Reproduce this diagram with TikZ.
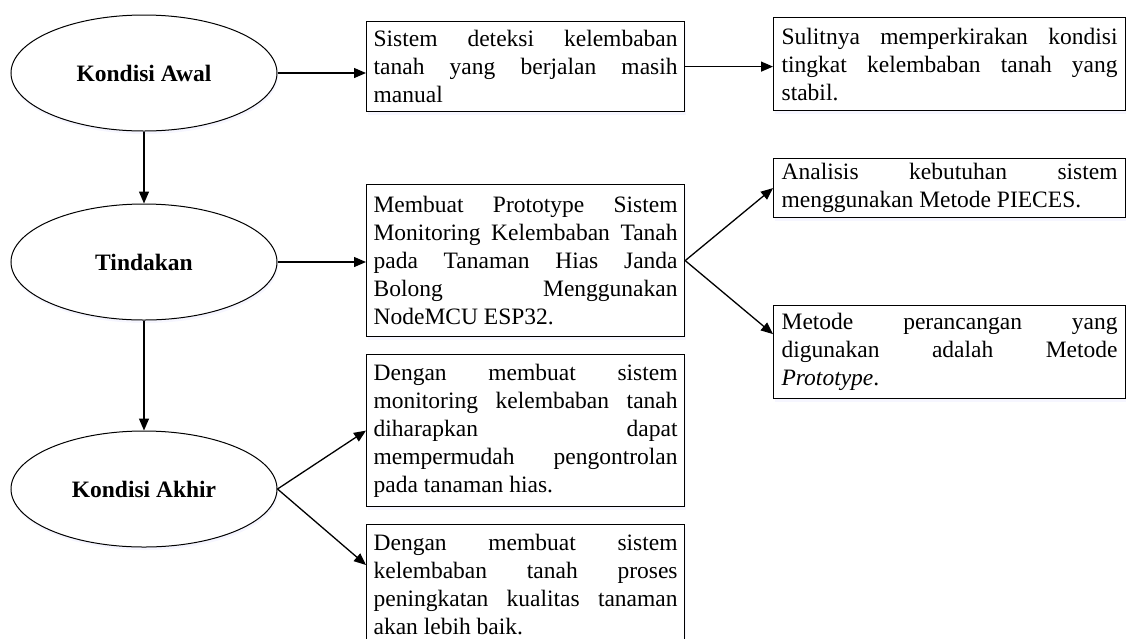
\documentclass[tikz,border=0pt]{standalone}
\usepackage{fontspec}
\setmainfont{Liberation Serif}
\usetikzlibrary{arrows.meta,shapes.geometric,shadows}
\begin{document}
\begin{tikzpicture}[x=1pt,y=-1pt,
  every node/.style={font=\fontsize{23.5}{28}\selectfont},
  softshadow/.style={drop shadow={shadow xshift=1pt,shadow yshift=-3pt,fill=blue!6,opacity=0.6}},
  oval/.style={ellipse,draw,line width=1pt,minimum width=266pt,minimum height=116pt,
    inner sep=0pt,fill=white,softshadow,font=\fontsize{23.5}{28}\selectfont\bfseries},
  lbox/.style={rectangle,draw,line width=1.2pt,anchor=north west,text width=304pt,
    inner xsep=7pt,inner ysep=0pt,align=justify,fill=white,softshadow},
  rbox/.style={lbox,text width=336pt,inner xsep=8pt},
  conn/.style={-{Triangle[length=12pt,width=10pt]},line width=1.3pt},
]
\useasboundingbox (0,0) rectangle (1126,638);

\node[oval] (e1) at (144,73) {Kondisi Awal};
\node[oval] (e2) at (144,262) {Tindakan};
\node[oval] (e3) at (144,489) {Kondisi Akhir};

\node[lbox,minimum height=90pt] (b1) at (366,21)
  {Sistem deteksi kelembaban\linebreak tanah yang berjalan masih\linebreak manual};
\node[rbox,minimum height=93pt] (b2) at (773,17)
  {Sulitnya memperkirakan kondisi\linebreak tingkat kelembaban tanah yang\linebreak stabil.};
\node[lbox,minimum height=152pt] (b3) at (366,184)
  {Membuat Prototype Sistem\linebreak Monitoring Kelembaban Tanah\linebreak pada Tanaman Hias Janda\linebreak Bolong Menggunakan\linebreak NodeMCU ESP32.};
\node[rbox,minimum height=59pt] (b4) at (773,158)
  {Analisis kebutuhan sistem\linebreak menggunakan Metode PIECES.};
\node[rbox,minimum height=93pt] (b5) at (773,305)
  {Metode perancangan yang\linebreak digunakan adalah Metode\linebreak \textit{Prototype}.};
\node[lbox,minimum height=152pt] (b6) at (366,354)
  {Dengan membuat sistem\linebreak monitoring kelembaban tanah\linebreak diharapkan dapat\linebreak mempermudah pengontrolan\linebreak pada tanaman hias.};
\node[lbox,minimum height=120pt] (b7) at (366,524)
  {Dengan membuat sistem\linebreak kelembaban tanah proses\linebreak peningkatan kualitas tanaman\linebreak akan lebih baik.};

\draw[conn] (e1.east) -- (e1.east -| b1.west);
\draw[conn] (b1.east) -- (b1.east -| b2.west);
\draw[conn] (e1.south) -- (e2.north);
\draw[conn] (e2.south) -- (e3.north);
\draw[conn] (e2.east) -- (e2.east -| b3.west);
\draw[conn] (b3.east) -- (b4.west);
\draw[conn] (b3.east) -- ([yshift=18pt]b5.west);
\draw[conn] (e3.east) -- (b6.west);
\draw[conn] (e3.east) -- ([yshift=-41pt]b7.north west);
\end{tikzpicture}
\end{document}
